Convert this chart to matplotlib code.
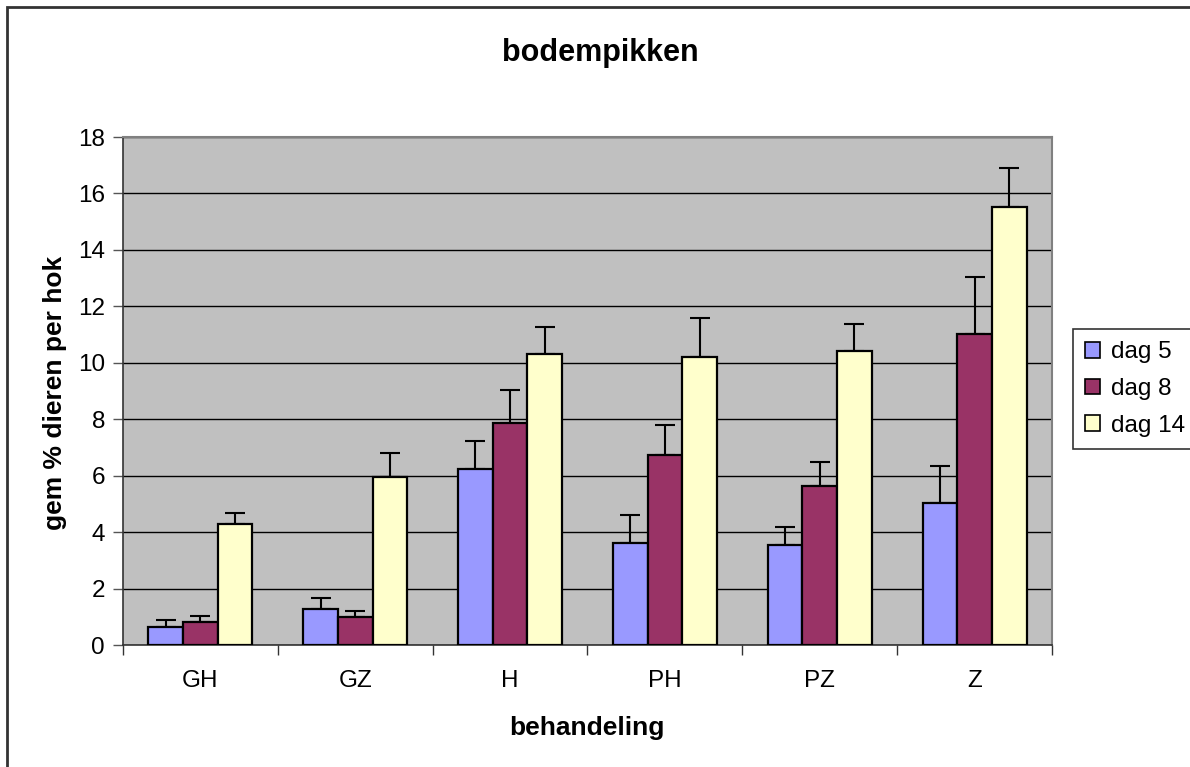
import numpy as np
import matplotlib
matplotlib.use("Agg")
import matplotlib.pyplot as plt
from matplotlib.patches import Rectangle

plt.rcParams["font.family"] = ["Liberation Sans", "DejaVu Sans"]

# Data ------------------------------------------------------------------------
categories = ["GH", "GZ", "H", "PH", "PZ", "Z"]
series = ["dag 5", "dag 8", "dag 14"]
dag5 = [0.65, 1.28, 6.25, 3.62, 3.55, 5.02]
dag8 = [0.80, 1.00, 7.85, 6.75, 5.63, 11.03]
dag14 = [4.28, 5.97, 10.32, 10.20, 10.40, 15.52]
err5 = [0.23, 0.40, 0.97, 0.97, 0.62, 1.32]
err8 = [0.21, 0.21, 1.17, 1.05, 0.84, 2.00]
err14 = [0.40, 0.83, 0.95, 1.40, 0.97, 1.39]
colors = ["#9999FF", "#993366", "#FFFFCC"]

# Figure ----------------------------------------------------------------------
fig = plt.figure(figsize=(11.9, 7.67), dpi=100)
fig.patches.append(Rectangle((7 / 1190, -0.05), 1.1, 1 - 7 / 767 + 0.05,
                             transform=fig.transFigure, fill=False,
                             edgecolor="#333333", linewidth=2))

ax = fig.add_axes([123 / 1190, 1 - 645 / 767, (1052 - 123) / 1190, (645 - 137) / 767])
ax.set_facecolor("#C0C0C0")

x = np.arange(len(categories))
width = 0.224
for i, (vals, errs, col, lab) in enumerate(zip([dag5, dag8, dag14], [err5, err8, err14], colors, series)):
    pos = x + (i - 1) * width
    ax.bar(pos, vals, width, color=col, edgecolor="black", linewidth=1.6, label=lab, zorder=3)
    ax.errorbar(pos, vals, yerr=[np.zeros(len(errs)), errs], fmt="none", ecolor="black",
                elinewidth=1.5, capsize=7, capthick=1.5, zorder=2)

ax.set_xlim(-0.5, 5.5)
ax.set_ylim(0, 18)
ax.set_yticks(np.arange(0, 19, 2))
ax.yaxis.grid(True, color="black", linewidth=1)
ax.set_axisbelow(True)

ax.set_xticks(x)
ax.set_xticklabels(categories)
ax.set_xticks(np.arange(-0.5, 6, 1), minor=True)
ax.tick_params(axis="x", which="major", length=0, pad=18, labelsize=17.5)
ax.tick_params(axis="x", which="minor", length=7, width=1, color="#333333", direction="out")
ax.tick_params(axis="y", length=7, width=1, color="#555555", labelsize=17.5, pad=6)

for side in ["top", "right"]:
    ax.spines[side].set_color("#808080")
    ax.spines[side].set_linewidth(1.5)
ax.spines["left"].set_color("#333333")
ax.spines["bottom"].set_color("#333333")
ax.spines["left"].set_linewidth(1.2)
ax.spines["bottom"].set_linewidth(1.2)

fig.text(600 / 1190, 1 - 53 / 767, "bodempikken", ha="center", va="center",
         fontsize=22, fontweight="bold")
fig.text(587 / 1190, 1 - 728 / 767, "behandeling", ha="center", va="center",
         fontsize=19, fontweight="bold")
fig.text(55 / 1190, 1 - 393 / 767, "gem % dieren per hok", ha="center", va="center",
         rotation=90, fontsize=19, fontweight="bold")

leg = fig.legend(loc="center left", bbox_to_anchor=(1073 / 1190, 1 - 389 / 767),
                 fontsize=17.5, frameon=True, fancybox=False, edgecolor="black",
                 handlelength=0.6, handleheight=0.6, handletextpad=0.45,
                 labelspacing=0.6, borderpad=0.5, borderaxespad=0)
leg.get_frame().set_linewidth(1.2)
for h in leg.legend_handles:
    h.set_linewidth(1.2)

fig.savefig("out.png", dpi=100)
